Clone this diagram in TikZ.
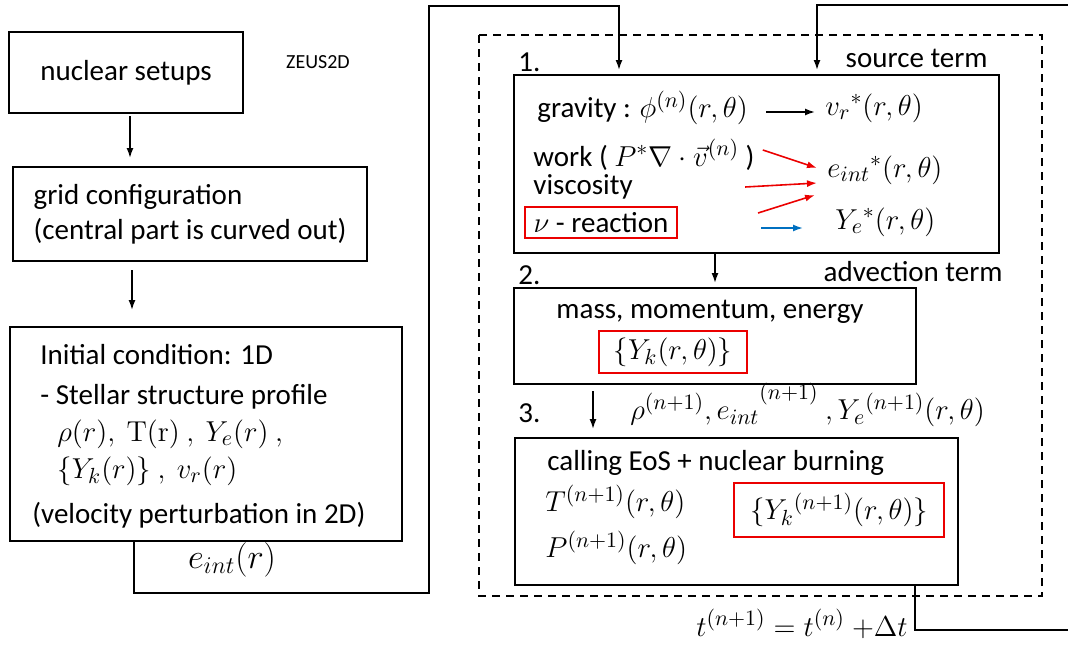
\documentclass[tikz,border=0pt]{standalone}
\usepackage{amsmath,amssymb}
\usepackage[no-math]{fontspec}
\setmainfont{Carlito}
\usepackage{tikz}
\usetikzlibrary{arrows.meta,positioning,calc}
\definecolor{flowblue}{RGB}{0,112,192}
\definecolor{markred}{RGB}{235,0,0}
\DeclareMathSizes{14.5}{15.2}{11}{8.5}

\begin{document}
\begin{tikzpicture}[x=0.5pt, y=-0.5pt,
    every node/.style={font=\fontsize{14.5}{17.5}\selectfont, inner sep=1pt},
    box/.style={draw, line width=1pt, inner sep=0pt},
    redbox/.style={draw=markred, line width=1pt, inner sep=0pt},
    txt/.style={anchor=west},
    frame/.style={line width=1pt, dash pattern=on 4pt off 3pt},
    flow/.style={-{Latex[length=5pt,width=3.5pt]}, line width=0.8pt},
    redflow/.style={flow, draw=markred},
    blueflow/.style={flow, draw=flowblue}]
    \useasboundingbox (0,0) rectangle (1068,644);

    \node[box, minimum width=117pt, minimum height=40.5pt] (nuc) at (126,72.5) {nuclear setups};
    \node[font=\fontsize{10}{12}\selectfont] (zeus) at (318,62) {ZEUS2D};
    \node[box, minimum width=177pt, minimum height=47pt, align=left] (grid) at (190,214) {grid configuration\\(central part is curved out)};
    \node[box, minimum width=196pt, minimum height=107pt] (init) at (206,434) {};
    \node[txt] (ic) at (38,355) {Initial condition: 1D};
    \node[txt] (prof) at (38,397) {- Stellar structure profile};
    \node[txt] (prof1) at (55,434) {$\rho(r),\ \mathrm{T(r)}\ ,\ Y_e(r)\ ,$};
    \node[txt] (prof2) at (55,471) {$\{Y_k(r)\}\ ,\ v_r(r)$};
    \node[txt] (pert) at (30,515) {(velocity perturbation in 2D)};
    \node[font=\fontsize{18.5}{21}\selectfont] (eint) at (232,560) {$e_{int}(r)$};

    \draw[frame] (479,35) rectangle (1042,596);

    \node[box, minimum width=242.5pt, minimum height=89pt] (src) at (756.5,164) {};
    \node[txt] (n1) at (516,62) {1.};
    \node[anchor=east] (srclab) at (990,58) {source term};
    \node[txt] (grav) at (535,108) {gravity : $\phi^{(n)}(r,\theta)$};
    \node[txt] (vr) at (823,108) {$v_r{}^*(r,\theta)$};
    \node[txt] (work) at (531,155) {work ( $P^*\nabla\cdot\vec{v}^{(n)}$ )};
    \node[txt] (visc) at (531,187) {viscosity};
    \node[redbox, minimum width=76pt, minimum height=15.5pt] (nur) at (601,222.5) {$\nu$ - reaction};
    \node[txt] (eis) at (825,170) {$e_{int}{}^*(r,\theta)$};
    \node[txt] (yes) at (833,222) {$Y_e{}^*(r,\theta)$};

    \node[txt] (n2) at (516,275) {2.};
    \node[anchor=east] (advlab) at (1005,272) {advection term};
    \node[box, minimum width=201pt, minimum height=48pt] (adv) at (715,336) {};
    \node (mme) at (710,312) {mass, momentum, energy};
    \node[redbox, minimum width=74pt, minimum height=21pt] (yk) at (673,352) {$\{Y_k(r,\theta)\}$};

    \node[txt] (n3) at (516,413) {3.};
    \node[txt] (upd) at (628,405) {$\rho^{(n+1)}, e_{int}{}^{\raisebox{5pt}{$\scriptstyle(n+1)$}}\ ,Y_e{}^{(n+1)}(r,\theta)$};
    \node[box, minimum width=221.5pt, minimum height=73.5pt] (eos) at (736.5,511.5) {};
    \node[txt] (call) at (545,463) {calling EoS + nuclear burning};
    \node[txt] (tn) at (543,502) {$T^{(n+1)}(r,\theta)$};
    \node[txt] (pn) at (543,548) {$P^{(n+1)}(r,\theta)$};
    \node[redbox, minimum width=105pt, minimum height=27pt] (ykn) at (839,510) {$\{Y_k{}^{(n+1)}(r,\theta)\}$};
    \node[anchor=east, font=\fontsize{15.5}{18}\selectfont] (tstep) at (910,624) {$t^{(n+1)} = t^{(n)}\ {+}\Delta t$};

    \coordinate (l1) at (429,593);
    \coordinate (l2) at (619,6);
    \coordinate (r1) at (1080,630);
    \coordinate (r2) at (817,5);

    \draw[flow, shorten >=4pt, shorten <=1pt] (nuc.south -| 130,0) -- (grid.north -| 130,0);
    \draw[flow, shorten >=8pt, shorten <=4pt] (grid.south -| 132,0) -- (init.north -| 132,0);
    \draw[flow, shorten >=2pt] (init.south -| 134,0) |- (l1) |- (l2) -- (l2 |- src.north);
    \draw[flow, shorten >=2pt] (eos.south -| 915,0) |- (r1) |- (r2) -- (r2 |- src.north);

    \draw[flow] ([xshift=8pt,yshift=-2pt]grav.east) -- ([xshift=-4pt,yshift=-2pt]vr.west);
    \draw[redflow] ([xshift=3pt,yshift=2.5pt]work.east) -- ([xshift=-4pt,yshift=1pt]eis.west);
    \draw[redflow] ([xshift=55pt]visc.east) -- ([xshift=-4pt,yshift=-6.5pt]eis.west);
    \draw[redflow] ([xshift=40pt,yshift=4.75pt]nur.east) -- ([xshift=-5pt,yshift=-12.5pt]eis.west);
    \draw[blueflow] ([xshift=41.5pt,yshift=-2.75pt]nur.east) -- ([xshift=-15pt,yshift=-3pt]yes.west);

    \draw[flow, shorten >=2pt] (src.south -| adv.north) -- (adv.north);
    \draw[flow, shorten <=3pt, shorten >=4pt] (adv.south -| 593,0) -- (eos.north -| 593,0);
\end{tikzpicture}
\end{document}
